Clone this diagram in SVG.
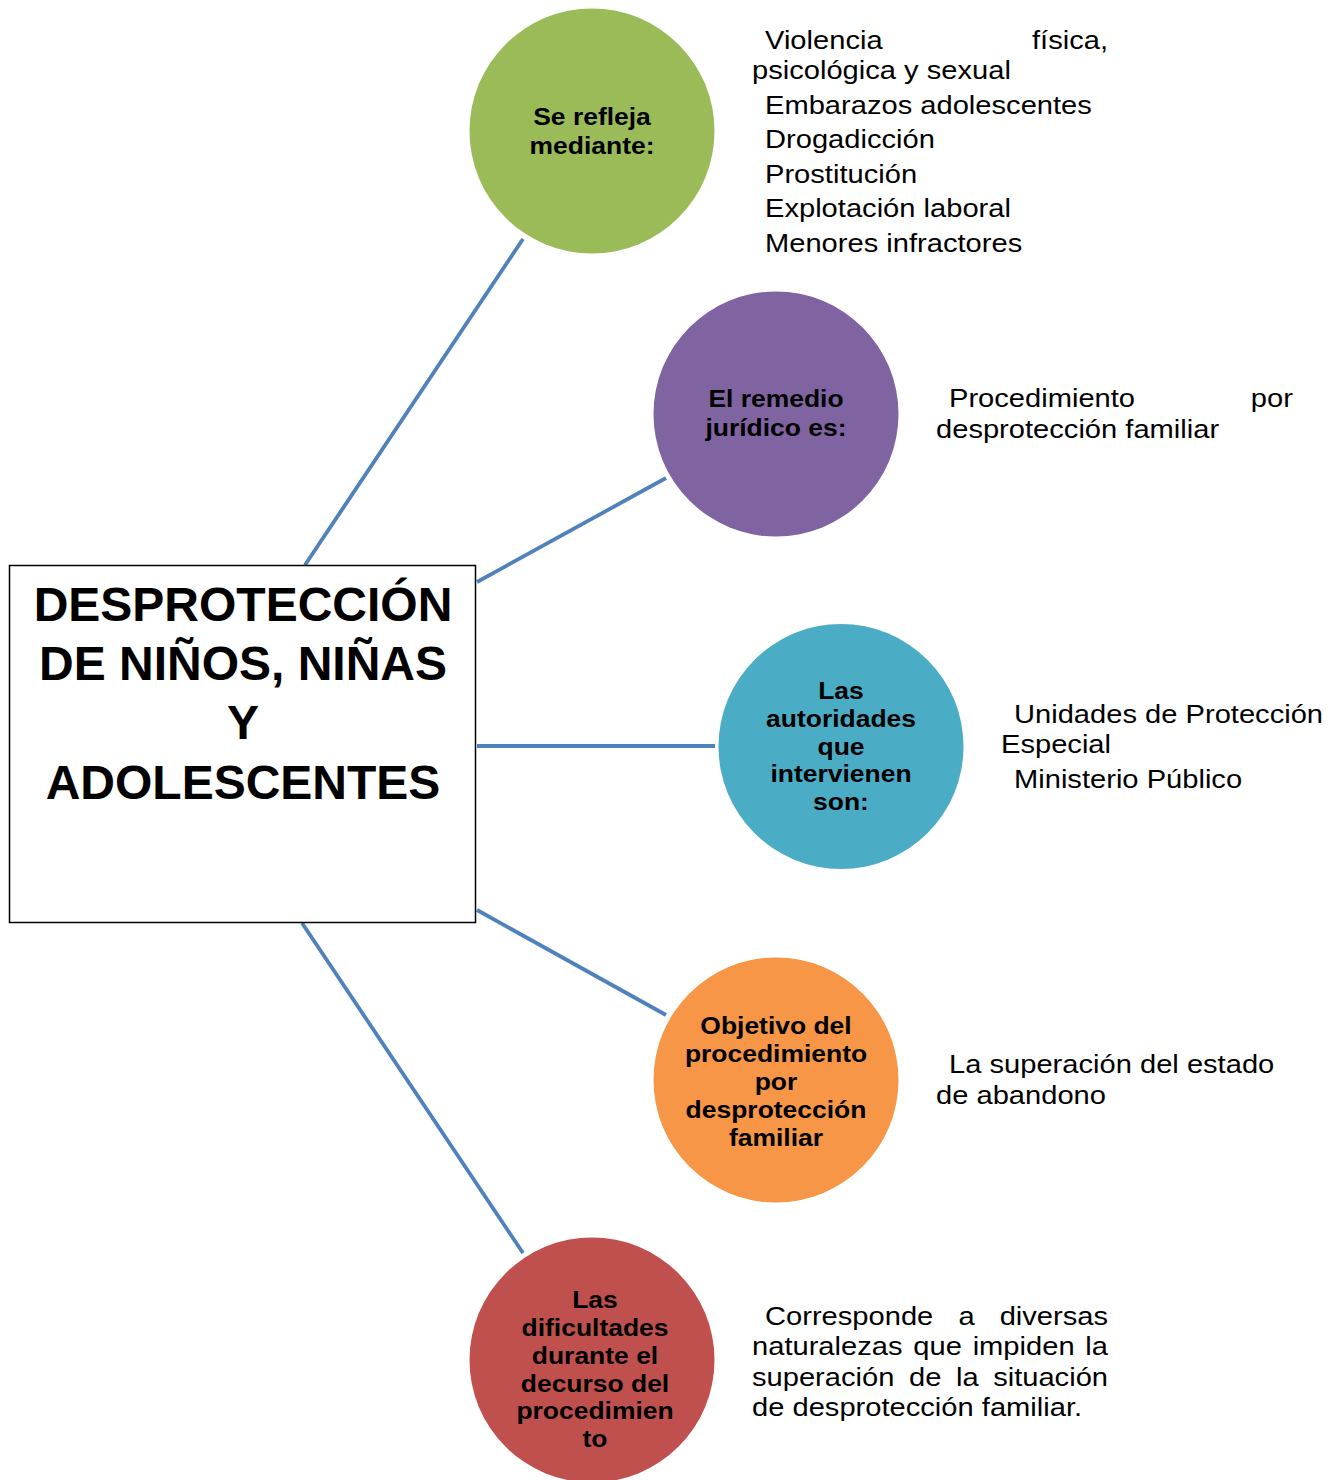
<svg xmlns="http://www.w3.org/2000/svg" width="1343" height="1480" viewBox="0 0 1343 1480">
<style>
.lbl{font-family:"Liberation Sans",Arial,sans-serif;font-weight:bold;font-size:24.5px;fill:#000;text-anchor:middle}
.txt{font-family:"Liberation Sans",Arial,sans-serif;font-size:26px;fill:#000}
.end{text-anchor:end}
.title{font-family:"Liberation Sans",Arial,sans-serif;font-weight:bold;font-size:48px;fill:#000;text-anchor:middle}
.conn{stroke:#4F81BD;stroke-width:3.8;fill:none}
</style>
<rect width="1343" height="1480" fill="#fff"/>
<g id="connectors">
<line class="conn" x1="305" y1="565" x2="523" y2="239"/>
<line class="conn" x1="477" y1="582" x2="666" y2="478"/>
<line class="conn" x1="477" y1="746" x2="715" y2="746"/>
<line class="conn" x1="477" y1="910" x2="666" y2="1015"/>
<line class="conn" x1="302" y1="923" x2="523" y2="1253"/>
</g>
<g id="main">
<rect x="9.5" y="565.5" width="466" height="357" fill="#fff" stroke="#000" stroke-width="1.5"/>
<text class="title" x="243" y="621">DESPROTECCIÓN</text>
<text class="title" x="243" y="680">DE NIÑOS, NIÑAS</text>
<text class="title" x="243" y="739">Y</text>
<text class="title" x="243" y="799">ADOLESCENTES</text>
</g>
<g id="node-refleja">
<circle cx="592" cy="131" r="122.5" fill="#9BBB59"/>
<g transform="translate(592 0) scale(1.08 1)">
<text class="lbl" x="0" y="125">Se refleja</text>
<text class="lbl" x="0" y="154">mediante:</text>
</g>
</g>
<g id="text-refleja" transform="translate(752 0) scale(1.12 1)">
<text class="txt" x="11.6" y="49">Violencia</text>
<text class="txt end" x="317.9" y="49">física,</text>
<text class="txt" x="0" y="79">psicológica y sexual</text>
<text class="txt" x="11.6" y="114">Embarazos adolescentes</text>
<text class="txt" x="11.6" y="148">Drogadicción</text>
<text class="txt" x="11.6" y="183">Prostitución</text>
<text class="txt" x="11.6" y="217">Explotación laboral</text>
<text class="txt" x="11.6" y="252">Menores infractores</text>
</g>
<g id="node-remedio">
<circle cx="776" cy="414" r="122.5" fill="#8064A2"/>
<g transform="translate(776 0) scale(1.08 1)">
<text class="lbl" x="0" y="407">El remedio</text>
<text class="lbl" x="0" y="436">jurídico es:</text>
</g>
</g>
<g id="text-remedio" transform="translate(936 0) scale(1.12 1)">
<text class="txt" x="11.6" y="407">Procedimiento</text>
<text class="txt end" x="318.7" y="407">por</text>
<text class="txt" x="0" y="438">desprotección familiar</text>
</g>
<g id="node-autoridades">
<circle cx="841" cy="746.5" r="122.5" fill="#4BACC6"/>
<g transform="translate(841 0) scale(1.08 1)">
<text class="lbl" x="0" y="699">Las</text>
<text class="lbl" x="0" y="727">autoridades</text>
<text class="lbl" x="0" y="755">que</text>
<text class="lbl" x="0" y="782">intervienen</text>
<text class="lbl" x="0" y="810">son:</text>
</g>
</g>
<g id="text-autoridades" transform="translate(1001 0) scale(1.12 1)">
<text class="txt" x="11.6" y="723">Unidades de Protección</text>
<text class="txt" x="0" y="753">Especial</text>
<text class="txt" x="11.6" y="788">Ministerio Público</text>
</g>
<g id="node-objetivo">
<circle cx="776" cy="1080" r="122.5" fill="#F79646"/>
<g transform="translate(776 0) scale(1.08 1)">
<text class="lbl" x="0" y="1034">Objetivo del</text>
<text class="lbl" x="0" y="1062">procedimiento</text>
<text class="lbl" x="0" y="1090">por</text>
<text class="lbl" x="0" y="1118">desprotección</text>
<text class="lbl" x="0" y="1146">familiar</text>
</g>
</g>
<g id="text-objetivo" transform="translate(936 0) scale(1.12 1)">
<text class="txt" x="11.6" y="1073">La superación del estado</text>
<text class="txt" x="0" y="1104">de abandono</text>
</g>
<g id="node-dificultades">
<circle cx="592" cy="1360" r="122.5" fill="#C0504D"/>
<g transform="translate(595 0) scale(1.08 1)">
<text class="lbl" x="0" y="1308">Las</text>
<text class="lbl" x="0" y="1336">dificultades</text>
<text class="lbl" x="0" y="1364">durante el</text>
<text class="lbl" x="0" y="1392">decurso del</text>
<text class="lbl" x="0" y="1419">procedimien</text>
<text class="lbl" x="0" y="1447">to</text>
</g>
</g>
<g id="text-dificultades" transform="translate(752 0) scale(1.12 1)">
<text class="txt" x="11.6" y="1325">Corresponde</text>
<text class="txt" x="184.3" y="1325">a</text>
<text class="txt end" x="317.9" y="1325">diversas</text>
<text class="txt" x="0" y="1355">naturalezas</text>
<text class="txt" x="144" y="1355">que</text>
<text class="txt" x="197" y="1355">impiden</text>
<text class="txt end" x="317.9" y="1355">la</text>
<text class="txt" x="0" y="1386">superación</text>
<text class="txt" x="140.2" y="1386">de</text>
<text class="txt" x="182.1" y="1386">la</text>
<text class="txt end" x="317.9" y="1386">situación</text>
<text class="txt" x="0" y="1416">de desprotección familiar.</text>
</g>
</svg>
